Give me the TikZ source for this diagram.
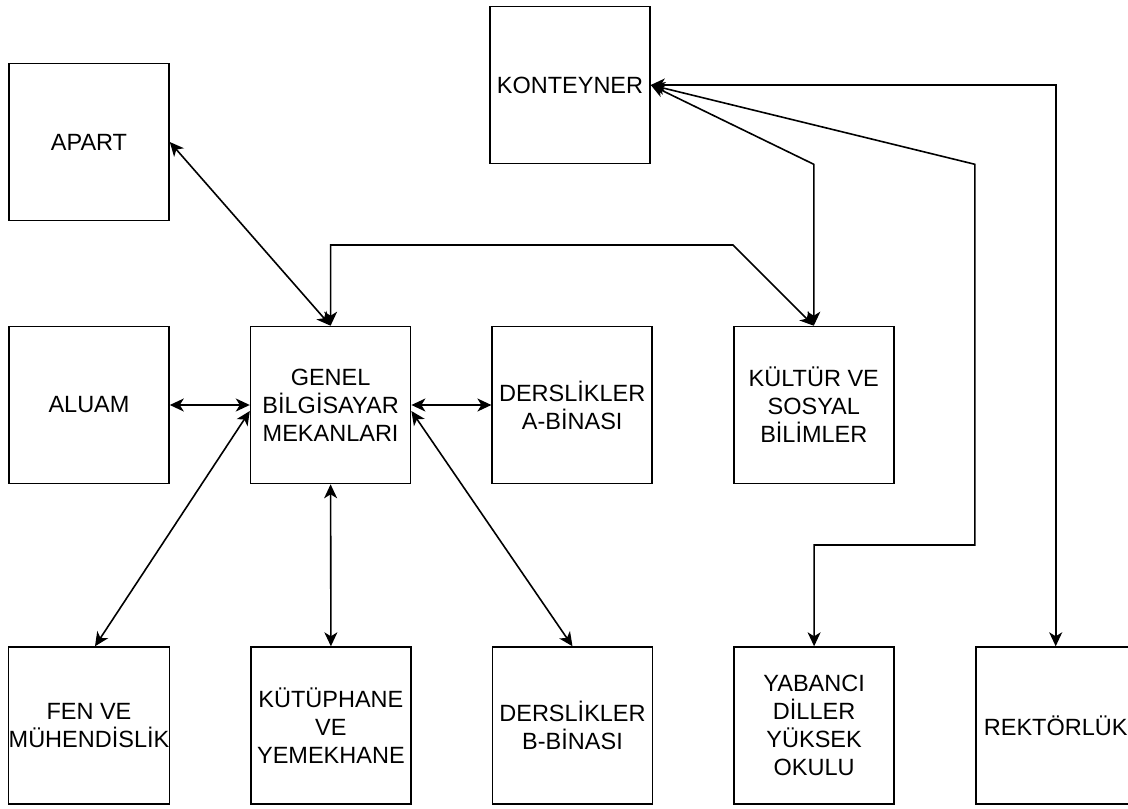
\documentclass[tikz,border=0pt]{standalone}
\usepackage{fontspec}
\setmainfont{Liberation Sans}
\usetikzlibrary{positioning,arrows.meta}

\begin{document}
\begin{tikzpicture}[x=1pt, y=-1pt, line width=1.6pt,
    bina/.style={draw, rectangle, minimum width=160pt, minimum height=157pt,
      inner sep=0pt, align=center, font=\fontsize{23.5}{28}\selectfont},
    yol/.style={<->, >={Stealth[length=14pt, width=13pt, inset=4pt]}}]
    \useasboundingbox (0,0) rectangle (1128,809);
    % ust sira
    \node [bina] (apart) at (89,142) {APART};
    \node [bina] (konteyner) at (570,85) {KONTEYNER};
    % orta sira
    \node [bina] (aluam) at (89,405) {ALUAM};
    \node [bina, right=80pt of aluam] (genel) {GENEL\\BİLGİSAYAR\\MEKANLARI};
    \node [bina, right=80pt of genel] (dersa) {DERSLİKLER\\A-BİNASI};
    \node [bina, right=80pt of dersa] (kultur) {KÜLTÜR VE\\SOSYAL\\BİLİMLER};
    % alt sira
    \node [bina, below=162pt of aluam] (fen) {FEN VE\\MÜHENDİSLİK};
    \node [bina, right=80pt of fen] (kutuphane) {KÜTÜPHANE\\VE\\YEMEKHANE};
    \node [bina, right=80pt of kutuphane] (dersb) {DERSLİKLER\\B-BİNASI};
    \node [bina, right=80pt of dersb] (yabanci) {YABANCI\\DİLLER\\YÜKSEK\\OKULU};
    \node [bina, right=80pt of yabanci] (rektorluk) {REKTÖRLÜK};
    % kirilma noktalari
    \coordinate (k1) at (genel.north |- 0,245);
    \coordinate (k2) at (kultur.west |- 0,245);
    \coordinate (k3) at (kultur.north |- konteyner.south);
    \coordinate (k4) at (rektorluk.west |- konteyner.south);
    \coordinate (k5) at (rektorluk.west |- 0,545);
    \coordinate (k6) at (yabanci.north |- 0,545);
    % baglantilar
    \draw [yol] (apart.east) -- (genel.north);
    \draw [yol] (aluam.east) -- (genel.west);
    \draw [yol] (genel.east) -- (dersa.west);
    \draw [yol] ([yshift=-6pt]genel.west) -- ([xshift=6pt]fen.north);
    \draw [yol] (genel.south) -- (kutuphane.north);
    \draw [yol] ([yshift=-6pt]genel.east) -- (dersb.north);
    \draw [yol] (genel.north) -- (k1) -- (k2) -- (kultur.north);
    \draw [yol] (konteyner.east) -- (k3) -- (kultur.north);
    \draw [yol] (konteyner.east) -- (k4) -- (k5) -- (k6) -- (yabanci.north);
    \draw [yol] (konteyner.east) -| (rektorluk.north);
\end{tikzpicture}
\end{document}
